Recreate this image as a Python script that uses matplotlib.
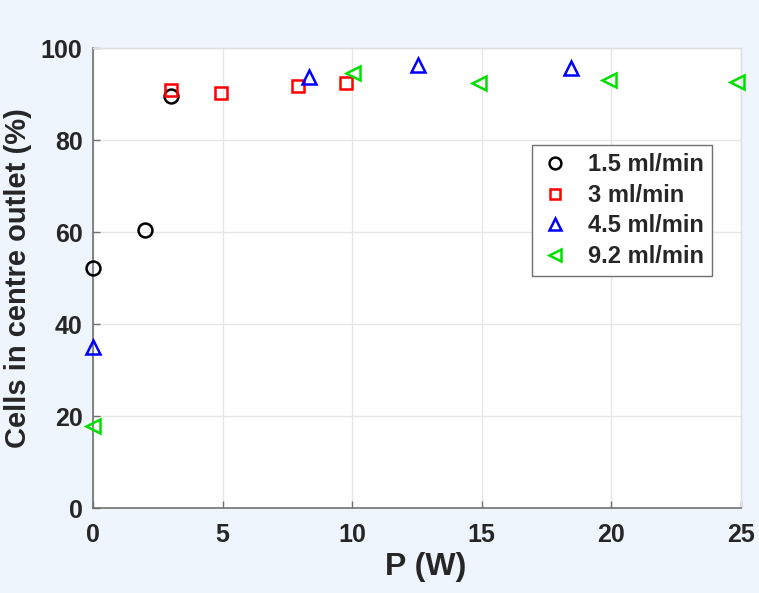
import matplotlib
matplotlib.use("Agg")
import matplotlib.pyplot as plt

plt.rcParams['font.family'] = ['Liberation Sans', 'DejaVu Sans']

# Data
x_15 = [0, 2, 3]
y_15 = [52.2, 60.4, 89.6]
x_3 = [3, 4.93, 7.9, 9.78]
y_3 = [90.8, 90.3, 91.7, 92.5]
x_45 = [0, 8.33, 12.53, 18.46]
y_45 = [35.1, 93.6, 96.3, 95.6]
x_92 = [0, 10.05, 14.9, 19.9, 24.86]
y_92 = [17.8, 94.5, 92.3, 93.0, 92.7]
labels = ['1.5 ml/min', '3 ml/min', '4.5 ml/min', '9.2 ml/min']
xticks = [0, 5, 10, 15, 20, 25]
yticks = [0, 20, 40, 60, 80, 100]

bg = '#eef5fd'
fig = plt.figure(figsize=(7.59, 5.93), dpi=100, facecolor=bg)
ax = fig.add_axes([0.1225, 0.1433, 0.8535, 0.7757])
ax.set_facecolor('white')

kw = dict(linestyle='none', markerfacecolor='none', markeredgewidth=1.8, clip_on=False, zorder=3)
ax.plot(x_15, y_15, marker='o', markeredgecolor='black', markersize=10, label=labels[0], **kw)
ax.plot(x_3, y_3, marker='s', markeredgecolor='#ff0000', markersize=8.5, label=labels[1], **kw)
ax.plot(x_45, y_45, marker='^', markeredgecolor='#0000ff', markersize=10, label=labels[2], **kw)
ax.plot(x_92, y_92, marker='<', markeredgecolor='#00e000', markersize=10, label=labels[3], **kw)

ax.set_xlim(0, 25)
ax.set_ylim(0, 100)
ax.set_xticks(xticks)
ax.set_yticks(yticks)
ax.grid(True, color='#e6e6e6', linewidth=1)
ax.set_axisbelow(True)

for s in ['left', 'bottom']:
    ax.spines[s].set_color('#707070')
    ax.spines[s].set_linewidth(1.2)
for s in ['top', 'right']:
    ax.spines[s].set_color('#e0e0e0')
    ax.spines[s].set_linewidth(1)

ax.tick_params(direction='in', length=5, width=1, color='#707070',
               labelsize=18, labelcolor='#262626')
ax.tick_params(axis='x', top=False, pad=11)
ax.tick_params(axis='y', right=False, pad=7.5)
for lab in ax.get_xticklabels() + ax.get_yticklabels():
    lab.set_fontweight('bold')

ax.set_xlabel('P (W)', fontsize=23, fontweight='bold', color='#262626')
ax.xaxis.set_label_coords(0.513, -0.095, transform=ax.transAxes)
ax.xaxis.label.set_verticalalignment('top')
ax.set_ylabel('Cells in centre outlet (%)', fontsize=21, fontweight='bold', color='#262626', labelpad=6)

leg = ax.legend(loc='upper left', bbox_to_anchor=(0.678, 0.789), borderaxespad=0,
                fancybox=False, shadow=False,
                framealpha=1, edgecolor='#707070', prop={'weight': 'bold', 'size': 17},
                handlelength=1.2, handletextpad=0.8, borderpad=0.35, labelspacing=0.32,
                markerscale=0.85)
leg.get_frame().set_linewidth(1)
for t in leg.get_texts():
    t.set_color('#262626')

fig.savefig('out.png', dpi=100, facecolor=bg)
